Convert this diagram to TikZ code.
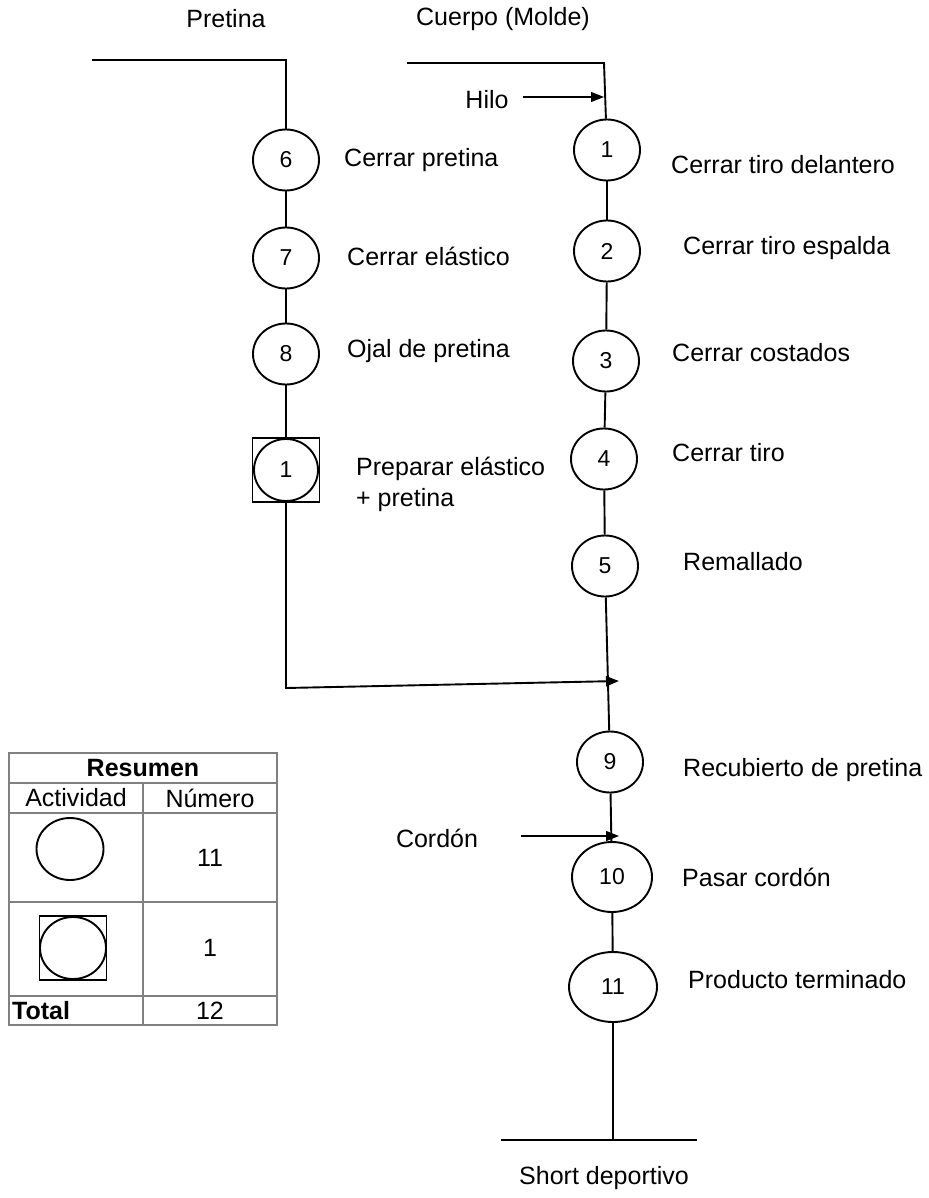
\documentclass[tikz,border=0pt]{standalone}
\usepackage{fontspec}
\setmainfont{Liberation Sans}
\usetikzlibrary{shapes.geometric,arrows.meta}
\begin{document}
\begin{tikzpicture}[x=1pt,y=-1pt,
  flow/.style={line width=1.9pt,black},
  feed/.style={line width=1.4pt,black,-{Triangle[length=13pt,width=10pt]}},
  op/.style={draw,line width=1.9pt,ellipse,minimum width=66pt,minimum height=61pt,
    inner sep=0pt,font=\fontsize{23}{26}\selectfont},
  insp/.style={draw,line width=1.6pt,rectangle,minimum width=67pt,minimum height=64pt,inner sep=0pt},
  lbl/.style={anchor=west,inner sep=0pt,font=\fontsize{25}{31}\selectfont},
  ttl/.style={inner sep=0pt,font=\fontsize{25}{31}\selectfont},
  grid/.style={draw=black!50,line width=1.3pt},
]
\useasboundingbox (0,0) rectangle (928,1198);

% column headings
\node[ttl] (hp) at (226,19) {Pretina};
\node[ttl] (hc) at (503,19) {Cuerpo (Molde)};

% --- Pretina line ---
\coordinate (lt) at (92,60);
\coordinate (lc) at (286,60);
\node[op] (p6) at (286,160) {6};
\node[op] (p7) at (286,258) {7};
\node[op] (p8) at (286,354) {8};
\node[insp] (pq) at (286,470) {};
\node[op,minimum width=64pt,minimum height=62pt] (p1) at (286,470) {1};
\coordinate (lb) at (286,688);
\coordinate (mj) at (619,681);

\node[lbl] (t6) at (344,160) {Cerrar pretina};
\node[lbl] (t7) at (347,256) {Cerrar elástico};
\node[lbl] (t8) at (347,351) {Ojal de pretina};
\node[lbl,align=left] (t1p) at (356,484) {Preparar elástico\\+ pretina};

\draw[flow] (lt) -- (lc) -- (p6);
\draw[flow] (p6) -- (p7);
\draw[flow] (p7) -- (p8);
\draw[flow] (p8) -- (pq);
\draw[flow,-{Triangle[length=13pt,width=10pt]}] (pq) -- (lb) -- (mj);

% --- Body line ---
\coordinate (rt) at (407,63);
\coordinate (rc) at (604,63);
\node[op] (c1) at (607,150) {1};
\node[op] (c2) at (607,251) {2};
\node[op] (c3) at (606,361) {3};
\node[op] (c4) at (604,459) {4};
\node[op] (c5) at (605,566) {5};
\node[op] (c9) at (610,762) {9};
\node[op,minimum width=80pt,minimum height=70pt] (c10) at (612,877) {10};
\node[op,minimum width=88pt,minimum height=70pt] (c11) at (613,987) {11};
\coordinate (bm) at (613,1140);
\coordinate (bl) at (501,1140);
\coordinate (br) at (697,1140);

\node[lbl] (u1) at (671,165) {Cerrar tiro delantero};
\node[lbl] (u2) at (683,248) {Cerrar tiro espalda};
\node[lbl] (u3) at (672,353) {Cerrar costados};
\node[lbl] (u4) at (672,453) {Cerrar tiro};
\node[lbl] (u5) at (683,562) {Remallado};
\node[lbl] (u9) at (683,770) {Recubierto de pretina};
\node[lbl] (u10) at (682,877) {Pasar cordón};
\node[lbl] (u11) at (688,980) {Producto terminado};

\draw[flow] (rt) -- (rc) -- (c1);
\draw[flow] (c1) -- (c2);
\draw[flow] (c2) -- (c3);
\draw[flow] (c3) -- (c4);
\draw[flow] (c4) -- (c5);
\draw[flow] (c5) -- (c9);
\draw[flow] (c9) -- (c10);
\draw[flow] (c10) -- (c11);
\draw[flow] (c11) -- (bm);
\draw[flow] (bl) -- (br);
\node[ttl] (fin) at (604,1178) {Short deportivo};

% material inputs
\node[ttl] (hilo) at (487,100) {Hilo};
\coordinate (hs) at (523,97);
\coordinate (he) at (604,97);
\draw[feed] (hs) -- (he);
\node[ttl] (cord) at (437,838) {Cordón};
\coordinate (cs) at (521,836);
\coordinate (ce) at (619,836);
\draw[feed] (cs) -- (ce);

% --- summary table ---
\draw[grid] (9,753) rectangle (277,1025);
\draw[grid] (9,783) -- (277,783);
\draw[grid] (9,813) -- (277,813);
\draw[grid] (9,902) -- (277,902);
\draw[grid] (9,996) -- (277,996);
\draw[grid] (143,783) -- (143,1025);
\node[ttl,font=\fontsize{25}{31}\selectfont\bfseries] (rs) at (143,768) {Resumen};
\node[ttl] (ra) at (76,798) {Actividad};
\node[ttl] (rn) at (210,798) {Número};
\node[op,minimum width=67pt,minimum height=62pt] (kc) at (70,849) {};
\node[ttl] (n1) at (210,858) {11};
\node[insp] (kq) at (73,948) {};
\node[op,minimum width=66pt,minimum height=62pt] (kqc) at (73,948) {};
\node[ttl] (n2) at (210,948) {1};
\node[ttl,anchor=west,font=\fontsize{25}{31}\selectfont\bfseries] (tt) at (12,1011) {Total};
\node[ttl] (n3) at (210,1011) {12};
\end{tikzpicture}
\end{document}
